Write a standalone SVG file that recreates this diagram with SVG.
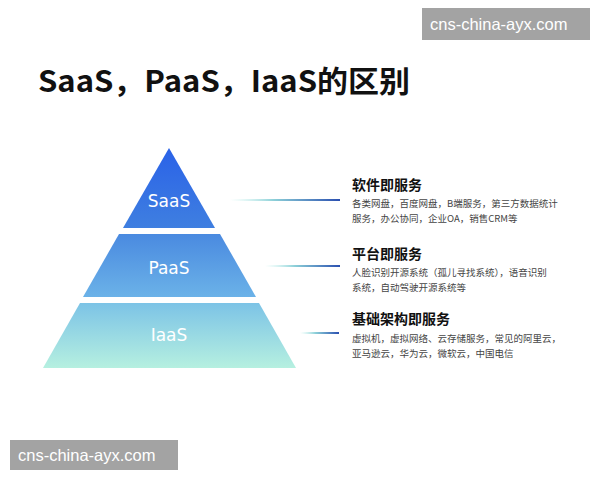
<svg xmlns="http://www.w3.org/2000/svg" width="600" height="480" viewBox="0 0 600 480">
<style>
.h{font-family:"Noto Sans CJK SC",sans-serif;font-weight:bold;font-size:14px;fill:#111}
.d{font-family:"Noto Sans CJK SC",sans-serif;font-size:9.5px;fill:#444}
.l{font-family:"DejaVu Sans",sans-serif;font-size:17px;fill:#fff;text-anchor:middle}
.w{font-family:"Liberation Sans",sans-serif;font-size:16.5px;fill:#fff}
</style>
<defs>
<linearGradient id="g1" x1="0" y1="0" x2="0" y2="1"><stop offset="0" stop-color="#2a62e8"/><stop offset="1" stop-color="#3f7fe0"/></linearGradient>
<linearGradient id="g2" x1="0" y1="0" x2="0" y2="1"><stop offset="0" stop-color="#4a8ae0"/><stop offset="1" stop-color="#6bb2e8"/></linearGradient>
<linearGradient id="g3" x1="0" y1="0" x2="0" y2="1"><stop offset="0" stop-color="#7cc3e6"/><stop offset="1" stop-color="#b6f0e0"/></linearGradient>
<linearGradient id="ln" x1="0" y1="0" x2="1" y2="0"><stop offset="0" stop-color="#b8f0e8" stop-opacity="0"/><stop offset="0.4" stop-color="#8ccfd8"/><stop offset="1" stop-color="#2a4fb0"/></linearGradient>
</defs>
<rect width="600" height="480" fill="#fff"/>
<text x="38" y="92" font-family="'Noto Sans CJK SC',sans-serif" font-weight="bold" font-size="29.5" fill="#111" textLength="372" lengthAdjust="spacingAndGlyphs">SaaS，PaaS，IaaS的区别</text>
<g id="saas"><polygon points="169,148 215,228 123,228" fill="url(#g1)"/><text class="l" x="169" y="207">SaaS</text></g>
<g id="paas"><polygon points="119,234 220,234 256,297 83,297" fill="url(#g2)"/><text class="l" x="169" y="274">PaaS</text></g>
<g id="iaas"><polygon points="80,303 259,303 296,368 43,368" fill="url(#g3)"/><text class="l" x="169" y="341">IaaS</text></g>
<g id="connectors">
<rect x="230" y="199" width="110" height="2" fill="url(#ln)"/>
<rect x="265" y="265" width="75" height="2" fill="url(#ln)"/>
<rect x="300" y="332" width="39" height="2" fill="url(#ln)"/>
</g>
<g id="t1"><text class="h" x="352" y="190">软件即服务</text><text class="d" x="352" y="207">各类网盘，百度网盘，B端服务，第三方数据统计</text><text class="d" x="352" y="222">服务，办公协同，企业OA，销售CRM等</text></g>
<g id="t2"><text class="h" x="352" y="259">平台即服务</text><text class="d" x="352" y="276">人脸识别开源系统（孤儿寻找系统），语音识别</text><text class="d" x="352" y="291">系统，自动驾驶开源系统等</text></g>
<g id="t3"><text class="h" x="352" y="324">基础架构即服务</text><text class="d" x="352" y="342">虚拟机，虚拟网络、云存储服务，常见的阿里云，</text><text class="d" x="352" y="357">亚马逊云，华为云，微软云，中国电信</text></g>
<rect x="422" y="8" width="168" height="32" fill="#999" opacity="0.9"/><text class="w" x="430" y="30">cns-china-ayx.com</text>
<rect x="10" y="440" width="168" height="30" fill="#999" opacity="0.9"/><text class="w" x="18" y="461">cns-china-ayx.com</text>
</svg>
